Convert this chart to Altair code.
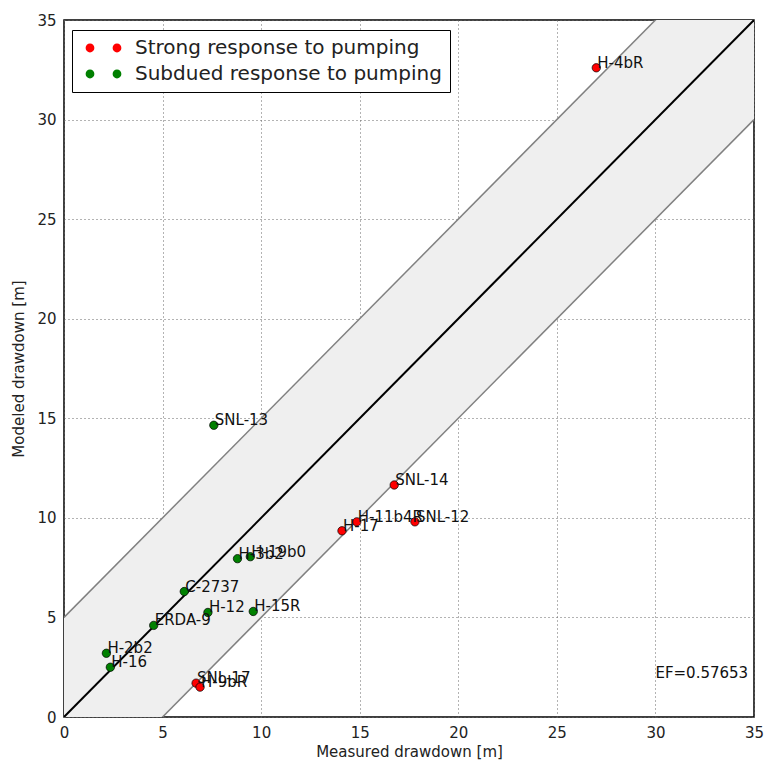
import altair as alt
import pandas as pd

# ---- data ----
strong_names = ["H-4bR", "SNL-14", "SNL-12", "H-11b4R", "H-17", "SNL-17", "H-9bR"]
strong_measured = [27.0, 16.75, 17.8, 14.85, 14.1, 6.7, 6.9]
strong_modeled = [32.6, 11.65, 9.8, 9.8, 9.35, 1.7, 1.5]

subdued_names = ["SNL-13", "H-3b2", "H-19b0", "C-2737", "H-12", "H-15R", "ERDA-9", "H-2b2", "H-16"]
subdued_measured = [7.6, 8.8, 9.45, 6.1, 7.3, 9.6, 4.55, 2.15, 2.35]
subdued_modeled = [14.65, 7.95, 8.05, 6.3, 5.25, 5.3, 4.6, 3.2, 2.5]

group_labels = ["Strong response to pumping", "Subdued response to pumping"]
group_colors = ["#ff0000", "#008000"]

axis_max = 35
band_half_width = 5
ef_text = "EF=0.57653"
ef_pos = (30.0, 1.95)

# ---- tables ----
pts = pd.DataFrame({
    "name": strong_names + subdued_names,
    "measured": strong_measured + subdued_measured,
    "modeled": strong_modeled + subdued_modeled,
    "group": [group_labels[0]] * len(strong_names) + [group_labels[1]] * len(subdued_names),
})

diag = pd.DataFrame({"x": [0, axis_max]})
diag["y"] = diag["x"]
diag["lo"] = diag["x"] - band_half_width
diag["hi"] = diag["x"] + band_half_width

ef = pd.DataFrame({"x": [ef_pos[0]], "y": [ef_pos[1]], "t": [ef_text]})

xs = alt.Scale(domain=[0, axis_max], nice=False, zero=False)
ys = alt.Scale(domain=[0, axis_max], nice=False, zero=False)

FONT = "DejaVu Sans"

common_axis = dict(values=list(range(0, 36, 5)), grid=True,
                   gridDash=[1, 3], gridColor="#666666", gridWidth=1, gridOpacity=1,
                   ticks=False, domain=False, labelPadding=8, labelFontSize=15,
                   labelFlush=False, labelOverlap=False,
                   labelColor="#222222", titleFontSize=15, titleFontWeight="normal",
                   titleColor="#222222", labelFont=FONT, titleFont=FONT)
xaxis = alt.Axis(title="Measured drawdown [m]", titlePadding=4, **common_axis)
yaxis = alt.Axis(title="Modeled drawdown [m]", titlePadding=10, **common_axis)

band = alt.Chart(diag).mark_area(color="#efefef", opacity=1, clip=True).encode(
    x=alt.X("x:Q", scale=xs, axis=xaxis),
    y=alt.Y("lo:Q", scale=ys, axis=yaxis),
    y2="hi:Q",
)
band_lo = alt.Chart(diag).mark_line(color="#808080", strokeWidth=1.5, clip=True).encode(
    x=alt.X("x:Q", scale=xs), y=alt.Y("lo:Q", scale=ys))
band_hi = alt.Chart(diag).mark_line(color="#808080", strokeWidth=1.5, clip=True).encode(
    x=alt.X("x:Q", scale=xs), y=alt.Y("hi:Q", scale=ys))
one2one = alt.Chart(diag).mark_line(color="black", strokeWidth=2, clip=True).encode(
    x=alt.X("x:Q", scale=xs), y=alt.Y("y:Q", scale=ys))

# legend glyph: two dots side by side (matplotlib numpoints=2 look)
two_dots = ("M-0.45,0a0.45,0.45 0 1,0 0.9,0a0.45,0.45 0 1,0 -0.9,0Z "
            "M2.32,0a0.45,0.45 0 1,0 0.9,0a0.45,0.45 0 1,0 -0.9,0Z")

points = alt.Chart(pts).mark_point(filled=True, size=70, opacity=1, stroke="black",
                                   strokeWidth=0.7, shape="circle").encode(
    x=alt.X("measured:Q", scale=xs),
    y=alt.Y("modeled:Q", scale=ys),
    color=alt.Color("group:N", scale=alt.Scale(domain=group_labels, range=group_colors),
                    legend=alt.Legend(title=None, orient="none", legendX=8, legendY=10,
                                      symbolType=two_dots, symbolSize=380,
                                      symbolStrokeWidth=0, symbolStrokeColor="transparent",
                                      labelFontSize=20, labelFont=FONT, labelColor="#222222",
                                      labelOffset=35, rowPadding=6,
                                      fillColor="white", strokeColor="black",
                                      padding=8, labelLimit=500)),
)

labels = alt.Chart(pts).mark_text(align="left", baseline="alphabetic", dx=1, dy=0,
                                  fontSize=15, font=FONT, color="#111111").encode(
    x=alt.X("measured:Q", scale=xs),
    y=alt.Y("modeled:Q", scale=ys),
    text="name:N",
)

ef_mark = alt.Chart(ef).mark_text(align="left", baseline="alphabetic", fontSize=15,
                                  font=FONT, color="#111111").encode(
    x=alt.X("x:Q", scale=xs), y=alt.Y("y:Q", scale=ys), text="t:N")

chart = alt.layer(band, band_lo, band_hi, one2one, points, labels, ef_mark).properties(
    width=690, height=697,
    autosize=alt.AutoSizeParams(type="none"),
    padding={"left": 64, "top": 20, "right": 11, "bottom": 50},
    background="white",
).configure_view(stroke="black", strokeWidth=1.5)

chart.save("out.html", embed_options={"renderer": "svg", "actions": False})
